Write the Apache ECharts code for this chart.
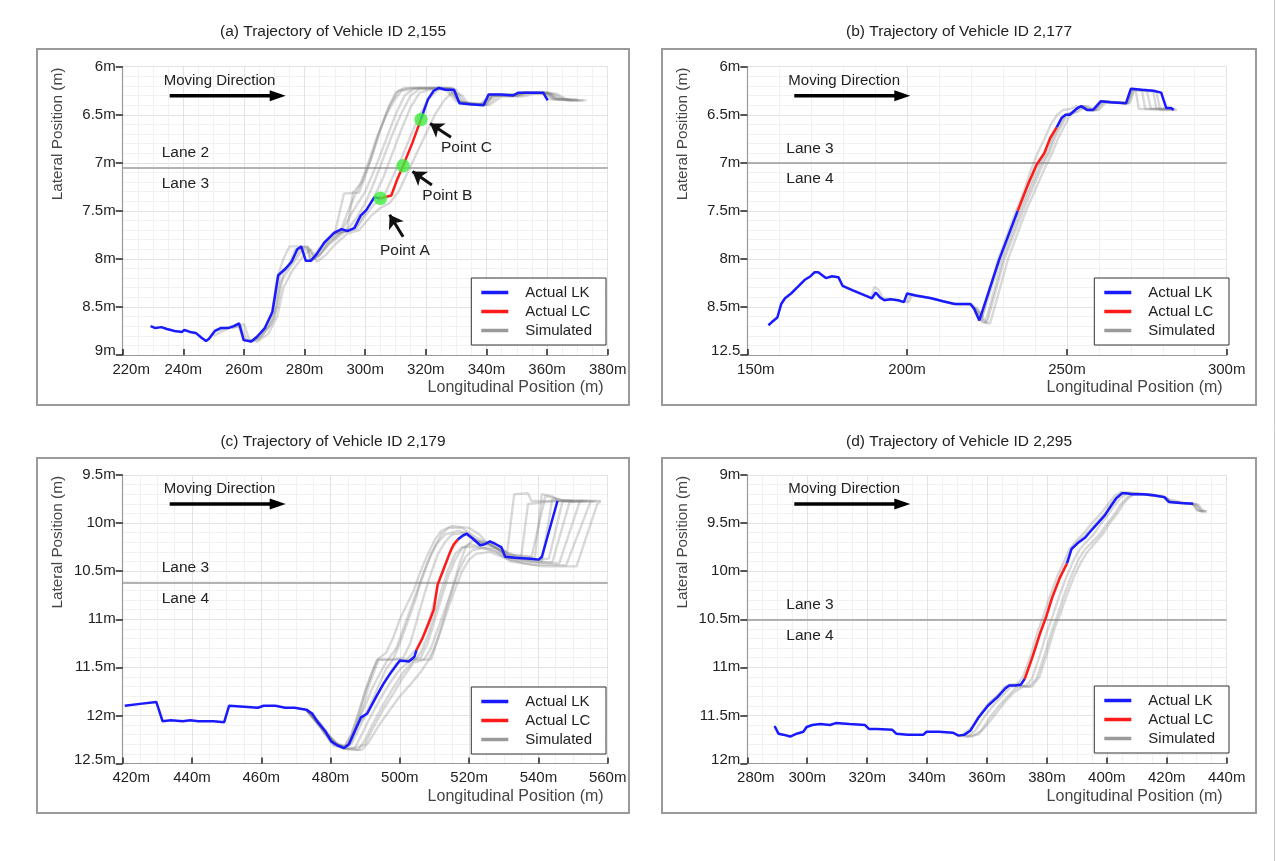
<!DOCTYPE html>
<html><head><meta charset="utf-8">
<script src="https://cdn.jsdelivr.net/npm/echarts@6/dist/echarts.min.js"></script>
<style>html,body{margin:0;padding:0;background:#fff}#c{width:1276px;height:861px}</style>
</head><body><div id="c"></div>
<script>
// ---------------- DATA ----------------
const aTitle = '(a) Trajectory of Vehicle ID 2,155';
const bTitle = '(b) Trajectory of Vehicle ID 2,177';
const cTitle = '(c) Trajectory of Vehicle ID 2,179';
const dTitle = '(d) Trajectory of Vehicle ID 2,295';

const aXTicks = ['220m','240m','260m','280m','300m','320m','340m','360m','380m'];
const aYTicks = ['6m','6.5m','7m','7.5m','8m','8.5m','9m'];
const bXTicks = ['150m','200m','250m','300m'];
const bYTicks = ['6m','6.5m','7m','7.5m','8m','8.5m','12.5'];
const cXTicks = ['420m','440m','460m','480m','500m','520m','540m','560m'];
const cYTicks = ['9.5m','10m','10.5m','11m','11.5m','12m','12.5m'];
const dXTicks = ['280m','300m','320m','340m','360m','380m','400m','420m','440m'];
const dYTicks = ['9m','9.5m','10m','10.5m','11m','11.5m','12m'];

const aLane = 7.05, bLane = 7.0, cLane = 10.62, dLane = 10.5;
const aLaneLabels = ['Lane 2','Lane 3'];
const bLaneLabels = ['Lane 3','Lane 4'];
const cLaneLabels = ['Lane 3','Lane 4'];
const dLaneLabels = ['Lane 3','Lane 4'];

// Panel (a)
const aLK1 = [[229.2,8.70],[230.8,8.72],[232.7,8.71],[234.6,8.73],[237.1,8.75],[239.6,8.76],[240.3,8.74],[242.2,8.76],[244.1,8.77],[246,8.82],[247.5,8.855],[248.5,8.83],[250.4,8.75],[252.3,8.72],[254.8,8.72],[256.7,8.70],[258.4,8.67],[259.9,8.845],[262.4,8.86],[264.3,8.81],[266.9,8.72],[269.4,8.55],[271.3,8.17],[273.8,8.10],[275.7,8.03],[277.6,7.90],[278.9,7.87],[280.4,8.02],[282.0,8.02],[284,7.95],[286.5,7.83],[289.7,7.73],[292.2,7.69],[294.1,7.71],[296.4,7.68],[298.5,7.55],[300.4,7.49],[303,7.36],[305,7.37]];
const aLC = [[305,7.37],[308.6,7.34],[310.6,7.17],[312.5,7.03],[315.6,6.79],[318.4,6.545]];
const aLK2 = [[318.4,6.545],[320.7,6.34],[322.6,6.25],[324.3,6.22],[326.4,6.24],[329.3,6.24],[331.1,6.38],[334.6,6.39],[339.1,6.40],[340.7,6.29],[344.8,6.29],[348.8,6.30],[350.5,6.27],[354.9,6.27],[358.7,6.27],[360.2,6.35]];
const aSim1 = [[248,8.84],[250,8.76],[254,8.72],[258,8.68],[260,8.84],[263,8.85],[266,8.76],[269,8.6],[271,8.2],[273,8.0],[275,7.87],[281,7.87],[283,7.96],[286,7.85],[290,7.73],[293,7.32],[298,7.31],[301,7.05],[304,6.75],[307,6.48],[310,6.27],[313,6.22],[329,6.22],[331,6.37],[339,6.39],[341,6.29],[349,6.29],[351,6.27],[359,6.27],[361,6.34],[368,6.34]];
const aSim2 = [[250,8.80],[255,8.72],[259,8.70],[261,8.85],[264,8.85],[268,8.70],[270,8.55],[272,8.15],[275,8.05],[277,7.9],[281,7.88],[283,8.0],[285,7.95],[288,7.82],[292,7.72],[296,7.5],[300,7.3],[304,7.0],[307,6.75],[310,6.5],[313,6.3],[316,6.23],[327,6.23],[331,6.36],[336,6.39],[340,6.39],[342,6.3],[350,6.29],[352,6.27],[360,6.27],[362,6.33],[370,6.34]];
const aSim3 = [[256,8.72],[260,8.68],[262,8.86],[265,8.83],[269,8.68],[271,8.5],[273,8.15],[276,8.03],[279,7.88],[281,7.88],[282,8.02],[285,7.96],[288,7.84],[292,7.73],[297,7.67],[300,7.52],[303,7.35],[306,7.15],[309,6.9],[312,6.65],[315,6.42],[318,6.27],[322,6.23],[329,6.23],[332,6.38],[338,6.4],[343,6.3],[350,6.3],[353,6.27],[361,6.28],[364,6.34],[371,6.35]];
const aSim4 = [[262,8.87],[266,8.8],[270,8.62],[272,8.25],[275,8.1],[279,7.92],[281,7.9],[282,8.03],[285,7.96],[288,7.85],[293,7.72],[297,7.69],[300,7.55],[303,7.43],[306,7.36],[309,7.15],[312,6.95],[315,6.72],[318,6.5],[321,6.33],[324,6.24],[330,6.24],[333,6.39],[340,6.4],[344,6.3],[351,6.3],[354,6.28],[362,6.28],[366,6.35],[372,6.35]];
const aSim5 = [[264,8.87],[268,8.78],[271,8.6],[273,8.3],[276,8.12],[280,7.95],[282,7.9],[284,8.03],[287,7.96],[290,7.85],[294,7.74],[298,7.7],[302,7.55],[305,7.47],[308,7.42],[311,7.3],[314,7.1],[317,6.9],[320,6.7],[323,6.5],[326,6.35],[329,6.26],[332,6.3],[334,6.39],[341,6.4],[345,6.31],[352,6.31],[356,6.28],[363,6.28],[367,6.35],[373,6.35]];
const aSim6 = [[286,7.84],[290,7.73],[294,7.71],[296,7.31],[299,7.2],[302,6.95],[305,6.65],[308,6.4],[311,6.25],[315,6.22],[326,6.22],[330,6.36],[337,6.39],[340,6.38],[342,6.3],[350,6.3],[353,6.27],[360,6.27],[363,6.34],[369,6.35]];
const aSim7 = [[284,7.95],[288,7.8],[292,7.7],[295,7.45],[298,7.25],[301,7.0],[304,6.72],[307,6.5],[310,6.33],[312,6.25],[318,6.22],[328,6.22],[331,6.37],[338,6.39],[341,6.3],[349,6.29],[352,6.27],[360,6.27],[362,6.34],[367,6.34]];
const aSim8 = [[290,7.74],[294,7.7],[297,7.58],[300,7.42],[303,7.2],[306,6.95],[309,6.7],[312,6.48],[315,6.3],[318,6.23],[328,6.23],[331,6.37],[338,6.4],[342,6.3],[350,6.3],[353,6.27],[361,6.27],[363,6.34],[370,6.35]];
const aSims = [aSim1, aSim2, aSim3, aSim4, aSim5, aSim6, aSim7, aSim8];
const aPoints = [[305,7.37],[312.5,7.03],[318.4,6.55]];
const aPointNames = ['Point A','Point B','Point C'];

// Panel (b)
const bLK1 = [[156.6,8.69],[157.6,8.66],[159.4,8.61],[160.6,8.47],[161.8,8.41],[163.7,8.36],[166.1,8.28],[167.9,8.22],[169.8,8.18],[171,8.14],[172.2,8.14],[174.6,8.20],[176.5,8.18],[178.5,8.19],[179.8,8.28],[183.2,8.33],[186.8,8.38],[189,8.41],[190.2,8.35],[191.5,8.40],[192.9,8.43],[194.8,8.42],[197.2,8.43],[199,8.45],[200,8.36],[202.7,8.38],[207.6,8.41],[211.2,8.44],[214.9,8.47],[219.8,8.47],[221,8.52],[222.6,8.64],[228.9,8.0],[234.6,7.50]];
const bLC = [[234.6,7.50],[238,7.21],[240.5,7.02],[242.9,6.90],[244.8,6.74],[246.8,6.63]];
const bLK2 = [[246.8,6.63],[248.4,6.53],[249.6,6.50],[250.9,6.50],[253.3,6.43],[254.5,6.41],[256.3,6.45],[258.2,6.45],[260.6,6.36],[263.7,6.37],[268.5,6.38],[270,6.23],[273.4,6.24],[277.1,6.25],[279.5,6.27],[281.1,6.43],[282.6,6.43],[283.4,6.45]];
const bSim1 = [[200,8.45],[201,8.37],[207.6,8.41],[215,8.47],[220,8.47],[221.5,8.53],[223,8.65],[229.3,8.0],[235,7.5],[238.2,7.25],[240.6,7.05],[243,6.92],[245,6.76],[247,6.63],[248.6,6.53],[250,6.49],[251.2,6.49],[253.5,6.42],[254.8,6.41],[256.6,6.45],[258.5,6.45],[260.9,6.36],[268.8,6.38],[270.3,6.23],[271.5,6.24],[272.5,6.44],[284,6.44]];
const bSim2 = [[221,8.5],[222.5,8.55],[224,8.66],[225,8.66],[230.5,8.0],[236.3,7.5],[239.5,7.25],[242,7.05],[244.5,6.9],[246.3,6.74],[248.2,6.62],[249.8,6.52],[251,6.48],[252.3,6.48],[254.5,6.42],[255.6,6.41],[257.5,6.45],[259.3,6.45],[261.5,6.37],[269.2,6.38],[270.8,6.24],[275,6.25],[276.3,6.44],[283,6.44]];
const bSim3 = [[221.5,8.5],[223,8.56],[224.8,8.67],[226,8.67],[231.6,8.0],[237.2,7.5],[240.4,7.26],[243,7.06],[245.4,6.9],[247.2,6.75],[249.2,6.62],[250.8,6.52],[252,6.48],[253.5,6.47],[255.5,6.42],[256.6,6.41],[258.4,6.45],[260,6.45],[262.2,6.37],[269.6,6.38],[271.2,6.24],[278,6.26],[279.2,6.45],[284.5,6.45]];
const bSim4 = [[222,8.55],[223.5,8.6],[228,8.05],[233.5,7.55],[236.5,7.3],[238.7,7.08],[240.8,6.9],[243,6.75],[245,6.6],[247,6.5],[248.8,6.45],[251,6.44],[253,6.41],[255.5,6.44],[258.2,6.44],[260.3,6.36],[268.6,6.38],[270.1,6.23],[273.5,6.25],[274.5,6.44],[282.5,6.44]];
const bSim5 = [[179.8,8.28],[183.2,8.33],[186.8,8.38],[188.8,8.4],[189.8,8.29],[191,8.32],[192.5,8.41],[195,8.42],[199.5,8.45],[200.6,8.45],[201.5,8.38],[207.6,8.41],[214.9,8.47],[220.5,8.48],[222,8.55],[223.6,8.66],[224.5,8.66],[230,8.0],[235.6,7.5],[239,7.24],[241.5,7.04],[244,6.9],[246,6.72],[248,6.6],[249.6,6.5],[251.5,6.48],[254,6.42],[255.2,6.41],[257,6.45],[259,6.45],[261.2,6.36],[269,6.38],[270.6,6.23],[277,6.25],[278,6.44],[283.5,6.44]];
const bSims = [bSim1, bSim2, bSim3, bSim4, bSim5];

// Panel (c)
const cLK1 = [[420.6,11.90],[425,11.88],[429.7,11.86],[431.5,12.06],[433.9,12.05],[437.3,12.06],[439.5,12.05],[441.8,12.06],[446.2,12.06],[449.3,12.07],[450.7,11.90],[455.1,11.91],[459,11.92],[460.7,11.90],[464.1,11.90],[466.9,11.92],[469.6,11.92],[471.3,11.93],[473,11.94],[474.7,11.98],[476.3,12.07],[478.6,12.17],[480.2,12.27],[481.9,12.31],[483.9,12.34],[485.3,12.30],[486.9,12.17],[488.8,12.02],[490.6,11.98],[493.1,11.81],[495.3,11.67],[497.5,11.55],[500,11.43],[502.6,11.44],[504.2,11.39],[504.8,11.32]];
const cLC = [[504.8,11.32],[506.5,11.20],[508.1,11.06],[509.8,10.90],[510.9,10.64],[512.6,10.48],[514.3,10.32],[515.4,10.23],[516.7,10.17]];
const cLK2 = [[516.7,10.17],[518.2,10.13],[519.3,10.11],[521,10.16],[523.2,10.23],[524.5,10.22],[526,10.19],[527.7,10.22],[529.3,10.25],[530.4,10.35],[533.2,10.36],[537.7,10.37],[540.1,10.38],[541,10.35],[545.5,9.77]];
const cSim1 = [[473,11.94],[476,12.05],[479,12.2],[482,12.3],[484,12.33],[486,12.2],[488,12.0],[490,11.75],[492,11.55],[493.5,11.42],[496,11.35],[498,11.2],[500,11.0],[502,10.85],[504,10.7],[506,10.5],[508,10.33],[510,10.18],[512,10.08],[515,10.03],[520,10.05],[523,10.12],[525,10.2],[528,10.26],[531,10.3],[533,9.7],[537,9.69],[538,9.77],[550,9.77]];
const cSim2 = [[473,11.94],[476,12.07],[479,12.2],[482,12.31],[484,12.34],[486,12.25],[488,12.05],[490,11.9],[492,11.72],[494,11.58],[496,11.45],[499,11.3],[501,11.1],[503,10.9],[505,10.7],[507,10.5],[509,10.32],[511,10.2],[513,10.12],[517,10.08],[520,10.12],[523,10.2],[527,10.24],[531,10.34],[535,10.36],[537,9.8],[545,9.77],[553,9.77]];
const cSim3 = [[473,11.94],[476,12.07],[480,12.27],[484,12.34],[486,12.28],[488,12.1],[490,12.0],[493,11.82],[496,11.62],[499,11.46],[502,11.42],[505,11.3],[507,11.15],[509,10.95],[511,10.65],[513,10.45],[515,10.27],[517,10.17],[519,10.12],[521,10.16],[524,10.22],[527,10.2],[530,10.28],[532,10.36],[540,10.38],[543,10.37],[547,9.77],[555,9.77]];
const cSim4 = [[473,11.94],[477,12.1],[481,12.3],[485,12.34],[488,12.33],[490,12.3],[492,12.15],[495,11.95],[498,11.78],[501,11.6],[504,11.45],[507,11.42],[509,11.3],[511,11.1],[513,10.9],[515,10.7],[517,10.5],[519,10.35],[521,10.28],[524,10.26],[528,10.3],[532,10.38],[540,10.41],[546,10.42],[552,9.77],[558,9.77]];
const cSim5 = [[473,11.94],[477,12.12],[481,12.32],[485,12.35],[489,12.36],[491,12.28],[494,12.1],[497,11.95],[500,11.8],[503,11.68],[506,11.55],[508,11.44],[510,11.3],[512,11.1],[514,10.88],[516,10.68],[518,10.5],[520,10.38],[522,10.32],[526,10.3],[530,10.36],[536,10.42],[541,10.45],[551,10.45],[557,9.8],[558,9.77]];
const cSim6 = [[473,11.94],[476,12.04],[479,12.18],[482,12.3],[485,12.32],[487,12.15],[489,11.95],[491,11.7],[493,11.5],[494,11.42],[498,11.42],[500,11.25],[502,11.05],[504,10.85],[506,10.62],[508,10.42],[510,10.25],[512,10.12],[514,10.05],[518,10.05],[522,10.15],[526,10.22],[530,10.32],[534,10.34],[539,10.36],[541,9.7],[544,9.72],[546,9.77],[552,9.77]];
const cSim7 = [[473,11.94],[476,12.07],[480,12.26],[484,12.35],[487,12.34],[489,12.2],[491,12.05],[494,11.85],[497,11.67],[500,11.52],[503,11.43],[506,11.4],[508,11.25],[510,11.02],[512,10.78],[514,10.55],[516,10.38],[518,10.26],[520,10.22],[524,10.25],[528,10.26],[531,10.35],[538,10.4],[544,10.41],[549,9.78],[556,9.77]];
const cSim8 = [[473,11.94],[476,12.06],[479,12.2],[482,12.3],[484,12.33],[486,12.2],[488,11.98],[490,11.75],[492,11.55],[493.5,11.42],[509,11.42],[511,11.2],[513,10.95],[515,10.7],[517,10.45],[519,10.25],[521,10.18],[525,10.2],[529,10.28],[533,10.33],[538,10.35],[542,9.72],[545,9.74],[547,9.77],[554,9.77]];
const cSim9 = [[473,11.94],[477,12.08],[481,12.28],[484,12.33],[486,12.3],[488,12.15],[490,12.0],[492,11.85],[494,11.68],[496,11.52],[498,11.42],[501,11.4],[503,11.25],[505,11.0],[507,10.75],[509,10.52],[511,10.32],[513,10.2],[515,10.12],[519,10.1],[522,10.18],[526,10.23],[530,10.3],[535,10.37],[541,10.4],[544,9.75],[550,9.77]];
const cSim10 = [[473,11.94],[477,12.1],[481,12.3],[485,12.35],[488,12.36],[490,12.25],[492,12.1],[495,11.9],[498,11.72],[501,11.55],[504,11.43],[506,11.35],[508,11.18],[510,10.95],[512,10.7],[514,10.48],[516,10.32],[518,10.25],[522,10.25],[527,10.28],[532,10.4],[538,10.43],[548,10.44],[555,9.78],[557,9.77]];
const cSims = [cSim1, cSim2, cSim3, cSim4, cSim5, cSim6, cSim7, cSim8, cSim9, cSim10];

// Panel (d)
const dLK1 = [[289.1,11.61],[290.4,11.69],[292,11.70],[294.3,11.72],[296.5,11.69],[298.7,11.67],[299.8,11.62],[301.7,11.60],[304.3,11.59],[307.6,11.60],[309.5,11.58],[314.1,11.59],[319.3,11.60],[320.6,11.64],[323.2,11.64],[328.4,11.65],[329.7,11.69],[333.6,11.70],[338.8,11.70],[339.8,11.67],[344,11.67],[348.6,11.68],[350.5,11.71],[352.5,11.70],[354.4,11.66],[357,11.53],[360.3,11.40],[363.5,11.31],[366.1,11.22],[367.4,11.19],[369.4,11.19],[371.3,11.18],[372.6,11.12]];
const dLC = [[372.6,11.12],[375.2,10.89],[377.8,10.64],[379.8,10.47],[381.7,10.28],[384.3,10.07],[386.7,9.92]];
const dLK2 = [[386.7,9.92],[388.2,9.77],[390.2,9.71],[392.8,9.65],[394.7,9.58],[396.7,9.51],[399.3,9.42],[401.2,9.33],[403.2,9.24],[405.1,9.19],[406.4,9.19],[408.4,9.20],[412.3,9.20],[415.5,9.21],[419.2,9.23],[420.7,9.28],[424.6,9.29],[428.8,9.30]];
const dSim1 = [[350.5,11.71],[352.5,11.70],[354.4,11.66],[357,11.52],[360.3,11.39],[363.5,11.30],[366.1,11.21],[367.4,11.18],[371.3,11.17],[372.6,11.12],[375.2,10.89],[377.8,10.63],[379.8,10.46],[381.7,10.27],[384.3,10.06],[386.7,9.90],[388.2,9.76],[390.2,9.70],[392.8,9.63],[396.7,9.49],[399.3,9.40],[401.2,9.31],[403.2,9.23],[405.1,9.19],[408.4,9.19],[412.3,9.20],[419.2,9.23],[420.7,9.28],[428.8,9.30],[430.2,9.37],[432.2,9.38]];
const dSim2 = [[351,11.71],[354,11.71],[356,11.66],[359,11.52],[362,11.40],[365,11.30],[368,11.20],[373,11.19],[375,11.12],[377.5,10.89],[380,10.63],[382,10.46],[384,10.27],[386.5,10.06],[389,9.88],[391,9.77],[393,9.70],[395.5,9.62],[398,9.51],[400.5,9.41],[402.5,9.32],[404.5,9.24],[406.5,9.20],[408,9.19],[412,9.20],[416,9.21],[420,9.24],[421.5,9.28],[425,9.29],[429.5,9.30],[431,9.37],[433,9.38]];
const dSim3 = [[352,11.72],[355,11.72],[358,11.66],[361,11.52],[364,11.40],[367,11.30],[370,11.20],[374,11.20],[376.5,11.12],[379,10.89],[381.5,10.63],[383.5,10.46],[385.5,10.27],[388,10.06],[390.5,9.88],[392.5,9.78],[395,9.70],[397.5,9.62],[400,9.51],[402.5,9.41],[404.5,9.31],[406.5,9.24],[408.5,9.20],[410,9.20],[414,9.20],[419,9.22],[421,9.27],[425,9.29],[430,9.31],[431.5,9.37],[433,9.38]];
const dSim4 = [[352,11.70],[355,11.62],[358,11.48],[361,11.36],[364,11.28],[366,11.20],[370,11.18],[372,11.10],[374.5,10.88],[377,10.62],[379,10.45],[381,10.26],[383.5,10.05],[386,9.88],[387.5,9.77],[390,9.68],[392.5,9.60],[395,9.50],[398,9.40],[400.5,9.30],[402.5,9.22],[404.5,9.18],[406,9.18],[410,9.19],[415,9.21],[419,9.23],[420.5,9.28],[428.5,9.30],[430,9.36],[432,9.38]];
const dSim5 = [[353,11.72],[357,11.70],[360,11.60],[363,11.48],[366,11.36],[369,11.26],[372,11.20],[375,11.20],[377.5,11.10],[380,10.86],[382.5,10.60],[384.5,10.44],[386.5,10.26],[389,10.06],[391.5,9.90],[393.5,9.80],[396,9.71],[398.5,9.62],[401,9.50],[403.5,9.40],[405.5,9.30],[407.5,9.23],[409.5,9.20],[412,9.20],[418,9.22],[421.5,9.26],[426,9.29],[430.5,9.31],[432,9.37],[433.5,9.38]];
const dSims = [dSim1, dSim2, dSim3, dSim4, dSim5];

// ---------------- LAYOUT / STYLE ----------------
const FONT = '"Liberation Sans", Arial, Helvetica, sans-serif';
const BLUE = '#1a1aff', RED = '#ff1a1a', GREEN = '#3eee3e';
const SIM = 'rgba(128,128,128,0.3)';
const GRIDS = [
  {left:122.7, top:66.7, width:485, height:288.3},
  {left:747.3, top:66.7, width:479.4, height:288.3},
  {left:122.7, top:475, width:485, height:288.5},
  {left:747.3, top:475, width:479.4, height:288.5}
];
const FRAMES = [[37,49,592,356],[662,49,594,356],[37,458,592,355],[662,458,594,355]];
const TITLE_POS = [[333,32],[959,32],[333,442],[959,442]];
const LEGEND_POS = [{right:670, top:278},{right:47, top:278},{right:670, top:687},{right:47, top:686}];
// annotation anchors (data coordinates of panel a)
const aArrowTails = [[312.5,7.77],[322,7.23],[328.3,6.735]];
const aArrowHeads = [[308.05,7.54],[315.6,7.09],[321.4,6.59]];
const aLabelAnchors = [[313.1,7.91],[327.1,7.345],[333.4,6.84]];

const panels = [
  {title:aTitle, xTicks:aXTicks, yTicks:aYTicks, xMin:220, xMax:380, xInt:20, xMinor:4, yMin:6, yMax:9, lk1:aLK1, lc:aLC, lk2:aLK2, sims:aSims, lane:aLane, laneLabels:aLaneLabels},
  {title:bTitle, xTicks:bXTicks, yTicks:bYTicks, xMin:150, xMax:300, xInt:50, xMinor:5, yMin:6, yMax:9, lk1:bLK1, lc:bLC, lk2:bLK2, sims:bSims, lane:bLane, laneLabels:bLaneLabels},
  {title:cTitle, xTicks:cXTicks, yTicks:cYTicks, xMin:420, xMax:560, xInt:20, xMinor:4, yMin:9.5, yMax:12.5, lk1:cLK1, lc:cLC, lk2:cLK2, sims:cSims, lane:cLane, laneLabels:cLaneLabels},
  {title:dTitle, xTicks:dXTicks, yTicks:dYTicks, xMin:280, xMax:440, xInt:20, xMinor:4, yMin:9, yMax:12, lk1:dLK1, lc:dLC, lk2:dLK2, sims:dSims, lane:dLane, laneLabels:dLaneLabels}
];

const grid = [], xAxis = [], yAxis = [], series = [], legend = [];
panels.forEach((p, i) => {
  grid.push(Object.assign({outerBoundsMode:'none', containLabel:false}, GRIDS[i]));
  xAxis.push({
    gridIndex:i, type:'value', position:'bottom', min:p.xMin, max:p.xMax, interval:p.xInt,
    name:'Longitudinal Position (m)', nameLocation:'end', nameGap:-4, nameMoveOverlap:false,
    nameTextStyle:{align:'right', verticalAlign:'top', padding:[25,0,0,0], fontSize:16, color:'#444', fontFamily:FONT},
    axisLine:{show:true, onZero:false, lineStyle:{color:'#999', width:1.2}},
    axisTick:{show:true, inside:true, length:6, lineStyle:{color:'#222', width:1.5}},
    minorTick:{show:false, splitNumber:p.xMinor},
    axisLabel:{margin:7, fontSize:15, color:'#222', fontFamily:FONT, hideOverlap:false,
      formatter:(v)=>{const k=Math.round((v-p.xMin)/p.xInt); const t=p.xTicks[k]; return k===0 ? '{m|'+t+'}' : t;},
      rich:{m:{padding:[0,0,0,17], fontSize:15, color:'#222', fontFamily:FONT}}},
    splitLine:{show:true, lineStyle:{color:'#e3e3e3', width:1}},
    minorSplitLine:{show:true, lineStyle:{color:'#f1f1f1', width:1}}
  });
  const last = p.yTicks.length - 1;
  yAxis.push({
    gridIndex:i, type:'value', inverse:true, min:p.yMin, max:p.yMax, interval:0.5,
    axisLine:{show:true, onZero:false, lineStyle:{color:'#999', width:1.2}},
    axisTick:{show:true, length:7, lineStyle:{color:'#222', width:1.5}},
    minorTick:{show:false, splitNumber:5},
    axisLabel:{margin:7, fontSize:15, color:'#222', fontFamily:FONT, hideOverlap:false,
      formatter:(v)=>{const k=Math.round((v-p.yMin)/0.5); const t=p.yTicks[k]; return k===last ? '{m|'+t+'}' : t;},
      rich:{m:{padding:[0,0,8,0], fontSize:15, color:'#222', fontFamily:FONT}}},
    splitLine:{show:true, lineStyle:{color:'#e3e3e3', width:1}},
    minorSplitLine:{show:true, lineStyle:{color:'#f1f1f1', width:1}}
  });
  p.sims.forEach(s => series.push({
    type:'line', name:'Simulated', xAxisIndex:i, yAxisIndex:i, data:s,
    showSymbol:false, symbol:'none', silent:true, z:2,
    itemStyle:{color:'#9a9a9a'}, lineStyle:{color:SIM, width:2.4}
  }));
  series.push({
    type:'line', name:'Actual LK', xAxisIndex:i, yAxisIndex:i, data:p.lk1,
    showSymbol:false, symbol:'none', silent:true, z:4,
    itemStyle:{color:BLUE}, lineStyle:{color:BLUE, width:2.5},
    markLine:{silent:true, symbol:'none', label:{show:false}, z:1,
      lineStyle:{color:'#9a9a9a', width:1.5, type:'solid'}, data:[{yAxis:p.lane}]}
  });
  series.push({
    type:'line', name:'Actual LC', xAxisIndex:i, yAxisIndex:i, data:p.lc,
    showSymbol:false, symbol:'none', silent:true, z:4,
    itemStyle:{color:RED}, lineStyle:{color:RED, width:2.5}
  });
  series.push({
    type:'line', name:'Actual LK', xAxisIndex:i, yAxisIndex:i, data:p.lk2,
    showSymbol:false, symbol:'none', silent:true, z:4,
    itemStyle:{color:BLUE}, lineStyle:{color:BLUE, width:2.5}
  });
  legend.push(Object.assign({
    orient:'vertical', icon:'rect', itemWidth:27, itemHeight:3.5, itemGap:4,
    backgroundColor:'#fff', borderColor:'#333', borderWidth:1, padding:[7,14,7,10],
    selectedMode:false, z:10,
    textStyle:{fontSize:15, color:'#222', fontFamily:FONT, lineHeight:15, padding:[0,0,0,12]},
    data:[{name:'Actual LK'},{name:'Actual LC'},{name:'Simulated', itemStyle:{color:'#9a9a9a'}}]
  }, LEGEND_POS[i]));
});

// key points in panel (a) with arrows
series.push({
  type:'scatter', name:'Points', xAxisIndex:0, yAxisIndex:0, data:aPoints,
  symbolSize:13.5, itemStyle:{color:GREEN}, silent:true, z:6,
  markLine:{silent:true, symbol:['none','arrow'], symbolSize:13, label:{show:false},
    lineStyle:{color:'#111', width:3, type:'solid'},
    emphasis:{disabled:true},
    data:aArrowTails.map((t,k)=>[{coord:t},{coord:aArrowHeads[k]}])}
});

const chart = echarts.init(document.getElementById('c'), null, {renderer:'canvas'});
chart.setOption({animation:false, backgroundColor:'#fff', grid, xAxis, yAxis, series, legend});

// ---------------- annotations ----------------
const g = [];
FRAMES.forEach(f => g.push({type:'rect', silent:true, z:0, shape:{x:f[0], y:f[1], width:f[2], height:f[3]}, style:{fill:'none', stroke:'#9a9a9a', lineWidth:2}}));
g.push({type:'line', silent:true, shape:{x1:1274.5, y1:0, x2:1274.5, y2:861}, style:{stroke:'#c8c8c8', lineWidth:1}});
panels.forEach((p, i) => {
  const G = GRIDS[i];
  g.push({type:'text', silent:true, x:TITLE_POS[i][0], y:TITLE_POS[i][1], style:{text:p.title, fontSize:15.5, fontFamily:FONT, fill:'#222', align:'center', verticalAlign:'middle'}});
  g.push({type:'text', silent:true, x:G.left-65, y:G.top+1, rotation:Math.PI/2, style:{text:'Lateral Position (m)', fontSize:15.3, fontFamily:FONT, fill:'#444', align:'right', verticalAlign:'middle'}});
  g.push({type:'text', silent:true, x:G.left+41, y:G.top+14, style:{text:'Moving Direction', fontSize:15, fontFamily:FONT, fill:'#222', align:'left', verticalAlign:'middle'}});
  const ay = G.top + 29;
  g.push({type:'line', silent:true, shape:{x1:G.left+47, y1:ay, x2:G.left+150, y2:ay}, style:{stroke:'#000', lineWidth:3.5}});
  g.push({type:'polygon', silent:true, shape:{points:[[G.left+147,ay-5.5],[G.left+163,ay],[G.left+147,ay+5.5]]}, style:{fill:'#000'}});
  const ly = chart.convertToPixel({gridIndex:i}, [p.xMin, p.lane])[1];
  g.push({type:'text', silent:true, x:G.left+39, y:ly-14.5, style:{text:p.laneLabels[0], fontSize:15.5, fontFamily:FONT, fill:'#222', align:'left', verticalAlign:'middle'}});
  g.push({type:'text', silent:true, x:G.left+39, y:ly+16, style:{text:p.laneLabels[1], fontSize:15.5, fontFamily:FONT, fill:'#222', align:'left', verticalAlign:'middle'}});
});
aLabelAnchors.forEach((a, k) => {
  const px = chart.convertToPixel({gridIndex:0}, a);
  g.push({type:'text', silent:true, x:px[0], y:px[1], style:{text:aPointNames[k], fontSize:15.5, fontFamily:FONT, fill:'#222', align:'center', verticalAlign:'middle'}});
});
chart.setOption({graphic:g});
</script></body></html>
